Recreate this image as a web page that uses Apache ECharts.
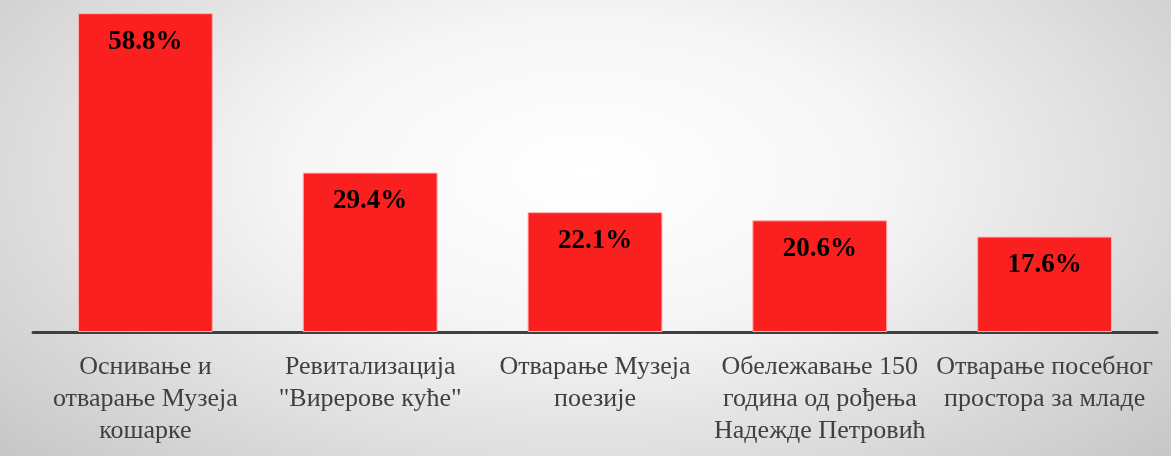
<!DOCTYPE html>
<html>
<head>
<meta charset="utf-8">
<script src="https://cdn.jsdelivr.net/npm/echarts@6/dist/echarts.min.js"></script>
<style>
  html, body { margin: 0; padding: 0; }
  #chart {
    width: 1171px;
    height: 456px;
    background: radial-gradient(ellipse 70% 95% at 50% 38%, #ffffff 0%, #f6f6f6 35%, #c4c4c4 100%);
  }
</style>
</head>
<body>
<div id="chart"></div>
<script>
const categories = [
  "Оснивање и\nотварање Музеја\nкошарке",
  "Ревитализација\n\"Вирерове куће\"",
  "Отварање Музеја\nпоезије",
  "Обележавање 150\nгодина од рођења\nНадежде Петровић",
  "Отварање посебног\nпростора за младе"
];
const values = [58.8, 29.4, 22.1, 20.6, 17.6];

const serif = "'Liberation Serif', 'Times New Roman', 'DejaVu Serif', serif";

const chart = echarts.init(document.getElementById("chart"));
chart.setOption({
  animation: false,
  backgroundColor: "transparent",
  grid: { left: 33, right: 14, top: 11, bottom: 124 },
  xAxis: {
    type: "category",
    data: categories,
    axisLine: { lineStyle: { color: "#404040", width: 3 } },
    axisTick: { show: false },
    axisLabel: {
      interval: 0,
      margin: 19,
      color: "#404040",
      fontFamily: serif,
      fontSize: 26,
      lineHeight: 32
    }
  },
  yAxis: {
    type: "value",
    min: 0,
    max: 59.2,
    show: false,
    splitLine: { show: false }
  },
  series: [{
    type: "bar",
    data: values,
    barWidth: "60%",
    itemStyle: {
      color: "#fa2020",
      borderColor: "#ffb0b0",
      borderWidth: 1
    },
    label: {
      show: true,
      position: "insideTop",
      distance: 15,
      formatter: (p) => p.value.toFixed(1) + "%",
      color: "#000",
      fontFamily: serif,
      fontWeight: "bold",
      fontSize: 27
    }
  }]
});
</script>
</body>
</html>
